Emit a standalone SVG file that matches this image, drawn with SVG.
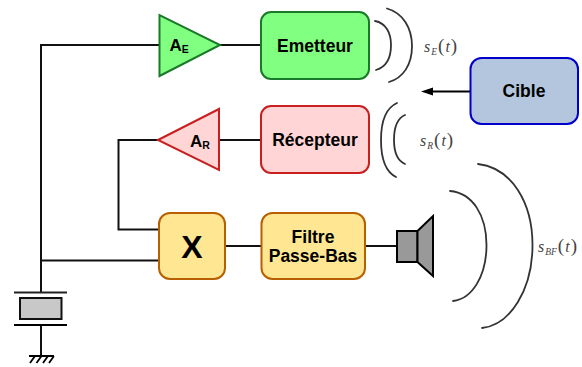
<svg xmlns="http://www.w3.org/2000/svg" width="582" height="367" viewBox="0 0 582 367">
<style>
.w{fill:none;stroke:#111;stroke-width:2}
.a{fill:none;stroke:#333;stroke-width:1.800;stroke-linecap:round}
text{font-family:"Liberation Sans",Arial,sans-serif;font-weight:bold;fill:#000;text-anchor:middle}
.l{font-size:17.500px}
.g{font-size:17px;text-anchor:start}
.g tspan{font-size:10.500px}
.m{font-family:"Liberation Serif","Times New Roman",serif;font-weight:normal;fill:#444;text-anchor:start;font-size:16px}
.i{font-style:italic}
.s{font-size:9.500px;font-style:italic}
.p{font-size:19px;font-weight:normal}
</style>
<g id="connectors">
<path class="w" d="M159 45H41V292"/>
<path class="w" d="M220 45H261"/>
<path class="w" d="M219 140H261"/>
<path class="w" d="M158 140H118.500V229.500H159"/>
<path class="w" d="M41 260.500H159"/>
<path class="w" d="M225 246H261"/>
<path class="w" d="M365 246H397"/>
<path class="w" d="M41 325V355"/>
<path d="M470 91.500H433" fill="none" stroke="#000" stroke-width="2"/>
<path d="M421 91.500L433 87.500V95.500Z" fill="#000"/>
</g>
<g id="amp-e">
<path d="M159.500 15V76L220 45Z" fill="#80ff80" stroke="#1a7a2a" stroke-width="2"/>
<text class="g" x="169.500" y="50.500">A<tspan dy="2">E</tspan></text>
</g>
<g id="amp-r">
<path d="M158 140L219 109V170Z" fill="#ffd5d5" stroke="#c82020" stroke-width="2"/>
<text class="g" x="190" y="146.500">A<tspan dy="2">R</tspan></text>
</g>
<g id="emetteur">
<rect x="261" y="12" width="108" height="67" rx="10" fill="#80ff80" stroke="#1a7a2a" stroke-width="2"/>
<text class="l" x="315" y="52">Emetteur</text>
</g>
<g id="recepteur">
<rect x="261" y="106" width="108" height="67" rx="10" fill="#ffd5d5" stroke="#c82020" stroke-width="2"/>
<text class="l" x="315" y="146">Récepteur</text>
</g>
<g id="cible">
<rect x="470.500" y="58" width="107.500" height="66" rx="11" fill="#b3c6de" stroke="#0000cc" stroke-width="2"/>
<text class="l" x="524" y="97">Cible</text>
</g>
<g id="mixer">
<rect x="159" y="213" width="66" height="66" rx="11" fill="#ffe693" stroke="#b85f00" stroke-width="2"/>
<text x="192" y="258" style="font-size:32px">X</text>
</g>
<g id="filtre">
<rect x="261.500" y="213" width="103.500" height="66" rx="11" fill="#ffe693" stroke="#b85f00" stroke-width="2"/>
<text class="l" x="313" y="243">Filtre</text>
<text class="l" x="313" y="262">Passe-Bas</text>
</g>
<g id="haut-parleur">
<rect x="397" y="231" width="20.500" height="31" fill="#999" stroke="#000" stroke-width="2"/>
<path d="M417.500 231L433 216V276L417.500 262Z" fill="#999" stroke="#000" stroke-width="2"/>
</g>
<g id="quartz">
<path d="M14 292.500H67" fill="none" stroke="#222" stroke-width="2"/>
<rect x="20" y="298" width="41.500" height="21" fill="#c8c8c8" stroke="#111" stroke-width="2"/>
<path d="M14 325H67" fill="none" stroke="#000" stroke-width="2"/>
<path d="M29 356H54M35 356L30 363M41.500 356L36.500 363M48 356L43 363M54 356L49 363" fill="none" stroke="#000" stroke-width="1.800"/>
</g>
<g id="ondes">
<path class="a" d="M375 21C386 23 391 33 391 45C391 58 386 67 376 70"/>
<path class="a" d="M387 8.500C403 13 412 28 412 46C412 65 403 78 389 82"/>
<path class="a" d="M405 115C398 118 394 127 394 140C394 153 398 161 405 164"/>
<path class="a" d="M397 103C386 108 381 122 381 140C381 158 386 172 396 177"/>
<path class="a" d="M450 191C473 193 486.500 216 486.500 245C486.500 276 472 299 453 301"/>
<path class="a" d="M478 164C512 168 532.500 203 532.500 245C532.500 290 510 325 482 328"/>
</g>
<g id="labels">
<text class="m" x="424" y="52"><tspan class="i">s</tspan><tspan class="s" dx="1" dy="3">E</tspan><tspan dx="1" dy="-3" class="p">(</tspan><tspan class="i" dx="1">t</tspan><tspan class="p" dx="1">)</tspan></text>
<text class="m" x="420" y="146"><tspan class="i">s</tspan><tspan class="s" dx="1" dy="3">R</tspan><tspan dx="1" dy="-3" class="p">(</tspan><tspan class="i" dx="1">t</tspan><tspan class="p" dx="1">)</tspan></text>
<text class="m" x="538" y="252"><tspan class="i">s</tspan><tspan class="s" dx="1" dy="3">BF</tspan><tspan dx="1" dy="-3" class="p">(</tspan><tspan class="i" dx="1">t</tspan><tspan class="p" dx="1">)</tspan></text>
</g>
</svg>
